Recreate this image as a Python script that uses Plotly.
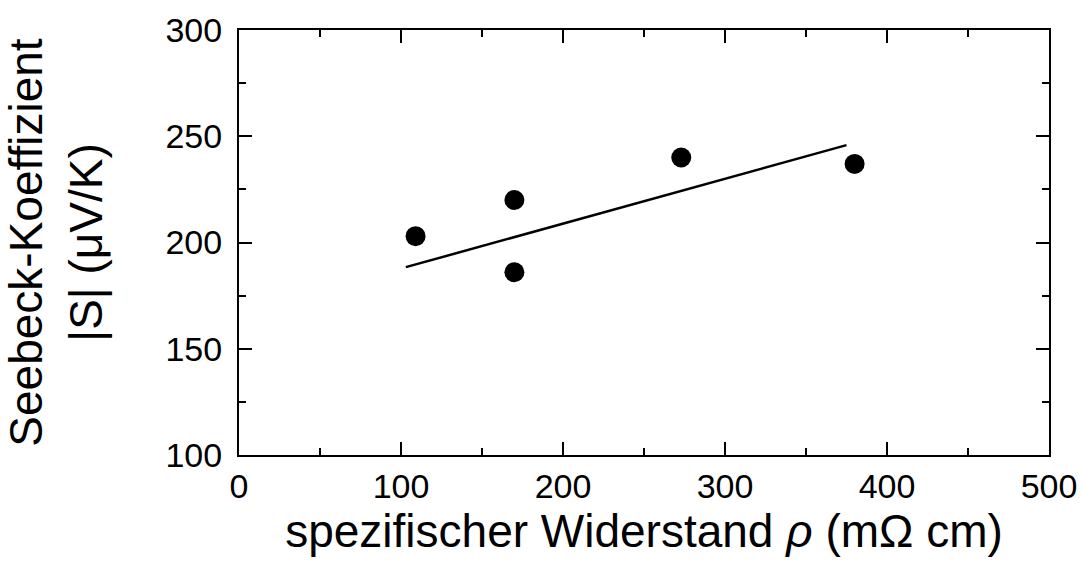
import plotly.graph_objects as go

# Data
rho = [109, 170, 170, 273, 380]          # spezifischer Widerstand (mΩ cm)
seebeck = [203, 220, 186, 240, 237]      # |S| (µV/K)
fit_x = [103, 375]
fit_y = [188.4, 245.8]

x_ticks = [0, 100, 200, 300, 400, 500]
y_ticks = [100, 150, 200, 250, 300]

FONT = "Liberation Sans, Arial, sans-serif"

fig = go.Figure()
fig.add_trace(go.Scatter(
    x=fit_x, y=fit_y, mode="lines",
    line=dict(color="black", width=2.5), showlegend=False))
fig.add_trace(go.Scatter(
    x=rho, y=seebeck, mode="markers",
    marker=dict(color="black", size=20, line=dict(width=0)), showlegend=False))

axis_common = dict(
    showline=True, linecolor="black", linewidth=2, mirror="allticks",
    ticks="inside", ticklen=13, tickwidth=2, tickcolor="black",
    showgrid=False, zeroline=False,
    tickfont=dict(family=FONT, size=34, color="black"),
)

fig.update_xaxes(
    range=[0, 500], tickvals=x_ticks, ticktext=[str(v) for v in x_ticks],
    minor=dict(ticks="inside", ticklen=7, tickwidth=2, tickcolor="black", dtick=50, showgrid=False),
    title=dict(text="spezifischer Widerstand <i>ρ</i> (mΩ cm)",
               font=dict(family=FONT, size=46, color="black"), standoff=6),
    ticklabelstandoff=0,
    **axis_common)
fig.update_yaxes(
    range=[100, 300], tickvals=y_ticks, ticktext=[str(v) for v in y_ticks],
    minor=dict(ticks="inside", ticklen=7, tickwidth=2, tickcolor="black", dtick=25, showgrid=False),
    title=dict(text="Seebeck-Koeffizient<br>|S| (μV/K)",
               font=dict(family=FONT, size=46, color="black"), standoff=60),
    ticklabelstandoff=8,
    **axis_common)

fig.update_layout(
    width=1081, height=563,
    margin=dict(l=239, r=32, t=30, b=108, autoexpand=False),
    paper_bgcolor="white", plot_bgcolor="white",
    font=dict(family=FONT, color="black"),
)

fig.write_html("out.html")
